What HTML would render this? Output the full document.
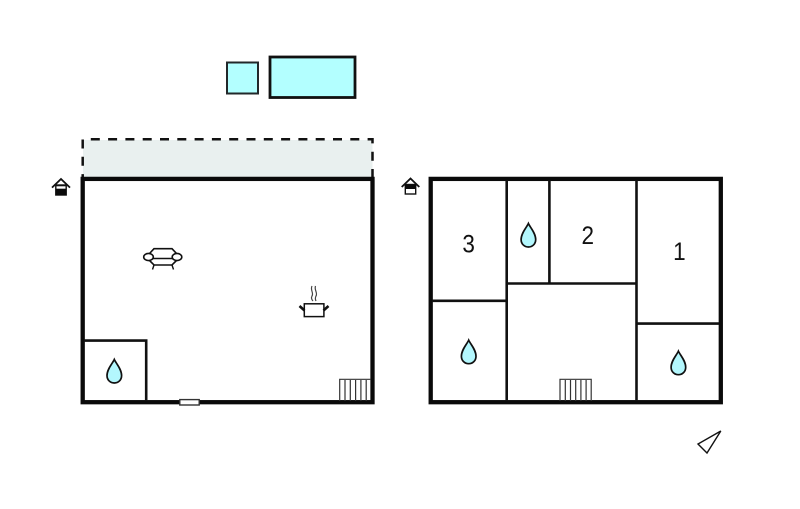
<!DOCTYPE html>
<html>
<head>
<meta charset="utf-8">
<style>
html,body{margin:0;padding:0;background:#fff;}
svg{display:block;}
text{font-family:"Liberation Sans",sans-serif;font-size:25px;fill:#111;text-anchor:middle;}
</style>
</head>
<body>
<svg xmlns="http://www.w3.org/2000/svg" width="800" height="509" viewBox="0 0 800 509">
<defs>
<path id="drop" d="M0 0 C1.5 3.5 7.3 9.5 7.3 16 C7.3 20.5 4 23.5 0 23.5 C-4 23.5 -7.3 20.5 -7.3 16 C-7.3 9.5 -1.5 3.5 0 0 Z" fill="#b3f7fd" stroke="#111" stroke-width="1.7"/>
</defs>

<!-- pools -->
<rect x="227" y="62.5" width="31" height="31" fill="#b3ffff" stroke="#22282a" stroke-width="2"/>
<rect x="270" y="57" width="85" height="40.5" fill="#b3ffff" stroke="#111" stroke-width="2.8"/>

<!-- balcony -->
<rect x="83" y="140" width="289.5" height="38" fill="#e9f0ef"/>
<path d="M372.5 178 V139.3 H82.7 V178" fill="none" stroke="#111" stroke-width="2.5" stroke-dasharray="9 8.3"/>

<!-- left plan -->
<rect x="82.7" y="178.9" width="289.8" height="223.3" fill="#fff" stroke="#0a0a0a" stroke-width="4.3"/>
<path d="M84 340.6 H146.2 V401" fill="none" stroke="#111" stroke-width="2.6"/>
<rect x="179.8" y="399.6" width="19.4" height="5.4" fill="#fff" stroke="#333" stroke-width="1.4"/>
<use href="#drop" x="114.3" y="359.5"/>

<!-- radiator left -->
<g fill="none" stroke="#333" stroke-width="1.2">
<path d="M339.7 401 V379.3 H371 M345 380 V401 M350.3 380 V401 M355.6 380 V401 M360.9 380 V401 M366.2 380 V401"/>
</g>

<!-- sofa -->
<g fill="#fff" stroke="#111" stroke-width="1.6">
<path d="M150 253 L154 248.7 H172 L176 253 V261 L172 265 H154 L150 261 Z"/>
<path d="M150.5 258.5 H175.5" />
<ellipse cx="148.5" cy="257" rx="4.8" ry="3.6"/>
<ellipse cx="177" cy="257" rx="4.8" ry="3.6"/>
<path d="M154 265 L152.5 269.5 M172 265 L173.5 269.5" stroke-width="1.4"/>
</g>

<!-- pot -->
<g fill="none" stroke="#111">
<rect x="304.3" y="303.8" width="19.6" height="12.8" fill="#fff" stroke-width="1.5"/>
<path d="M299.5 306 L304.5 310.5 M328.5 306 L323.5 310.5" stroke-width="2.6"/>
<path d="M312 286 C310 290 314 293 312 296 C311 298 312 300 313 301 M315.5 286 C314 290 318 293 316 296 C315 298 315.5 300 316 301" stroke="#444" stroke-width="1.2"/>
</g>

<!-- house icon left -->
<g>
<rect x="55.8" y="185" width="10.4" height="10" fill="#fff" stroke="#111" stroke-width="1.4"/>
<rect x="55.5" y="188.7" width="11" height="6.6" fill="#0a0a0a"/>
<path d="M52 187.6 L61 179 L70 187.6" fill="none" stroke="#111" stroke-width="1.8"/>
<path d="M56 185.6 H66" stroke="#111" stroke-width="1.4"/>
</g>

<!-- right plan -->
<rect x="430.7" y="178.9" width="290.1" height="223.3" fill="#fff" stroke="#0a0a0a" stroke-width="4.3"/>
<g fill="none" stroke="#111" stroke-width="2.6">
<path d="M506.7 180 V401"/>
<path d="M549.4 180 V283.5"/>
<path d="M506.7 283.5 H636.5"/>
<path d="M636.5 180 V401"/>
<path d="M636.5 323.6 H719"/>
<path d="M432 300.8 H506.7"/>
</g>
<use href="#drop" x="528.4" y="223.5"/>
<use href="#drop" x="468.7" y="340.2"/>
<use href="#drop" x="678.4" y="351.2"/>

<!-- radiator right -->
<g fill="none" stroke="#333" stroke-width="1.2">
<path d="M560 401 V379.3 H591.2 V401 M565.3 380 V401 M570.5 380 V401 M575.7 380 V401 M580.9 380 V401 M586.1 380 V401"/>
</g>

<!-- house icon right -->
<g>
<rect x="405.3" y="184.5" width="10.4" height="9.5" fill="#fff" stroke="#111" stroke-width="1.4"/>
<rect x="405" y="184.5" width="11" height="4.5" fill="#0a0a0a"/>
<path d="M401.7 187 L410.5 178.5 L419.3 187" fill="none" stroke="#111" stroke-width="1.8"/>
</g>

<!-- numbers -->
<text transform="translate(468.6 252.3) scale(0.9 1)">3</text>
<text transform="translate(587.8 244) scale(0.9 1)">2</text>
<text transform="translate(679.4 260) scale(0.9 1)">1</text>

<!-- compass -->
<polygon points="720.8,431 698,444 707,453" fill="#fff" stroke="#111" stroke-width="1.4"/>
</svg>
</body>
</html>
